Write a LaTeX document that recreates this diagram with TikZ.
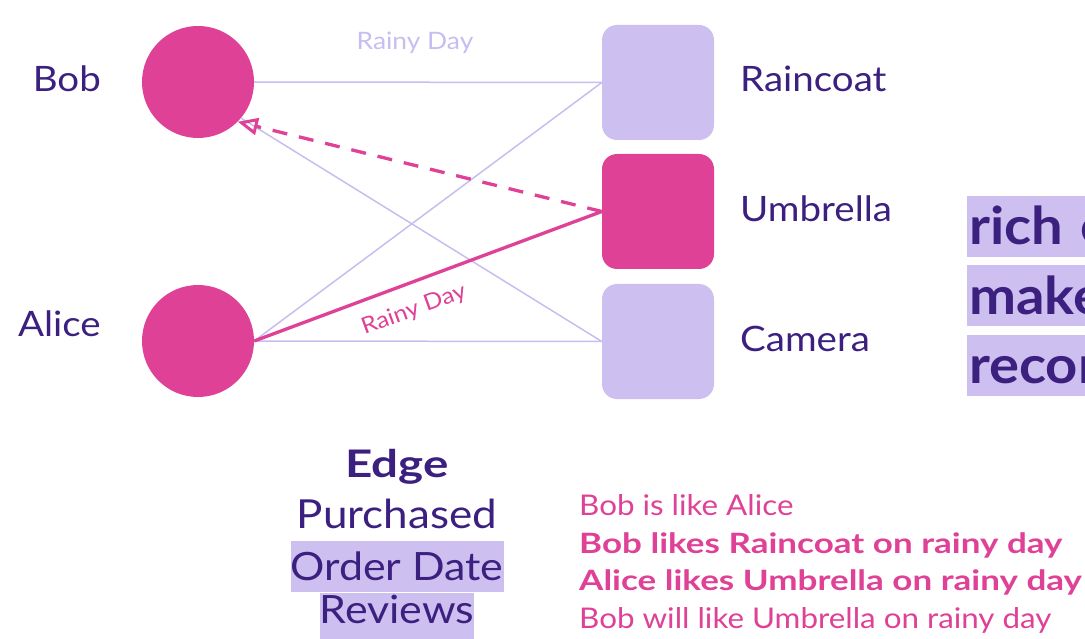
\documentclass[tikz,border=0pt]{standalone}
\usepackage{fontspec}
\setmainfont{Lato}[FakeStretch=1.1]
\newfontfamily\widebold{Lato}[FakeStretch=1.25]
\newfontfamily\headbold{Lato}[FakeStretch=1.08]
\usetikzlibrary{arrows.meta}
\definecolor{lav}{RGB}{205,192,241}
\definecolor{lavline}{RGB}{200,189,240}
\definecolor{hot}{RGB}{222,65,150}
\definecolor{ink}{RGB}{60,32,128}
\newcommand{\fs}[1]{\fontsize{#1}{#1}\selectfont}
\tikzset{
  person/.style={circle, fill=hot, minimum size=112pt, inner sep=0pt},
  item/.style={rectangle, rounded corners=15pt, minimum width=112pt, minimum height=115pt, inner sep=0pt},
  thinedge/.style={draw=lavline, line width=1.5pt},
  pinkedge/.style={draw=hot, line width=3.3pt},
  namelabel/.style={text=ink, font=\fs{35}, inner sep=0pt},
  hl/.style={fill=lav, inner ysep=0pt, inner xsep=2pt},
  pinktext/.style={text=hot, font=\fs{28.5}, inner sep=0pt, anchor=base west},
  pinkbold/.style={pinktext, font=\widebold\fs{28}\bfseries},
  statement/.style={hl, anchor=base west, text width=240pt, align=left, text=ink, font=\headbold\fs{52}\bfseries},
}
\begin{document}
\begin{tikzpicture}[x=1pt,y=-1pt]
\useasboundingbox (0,0) rectangle (1085,639);
\clip (0,0) rectangle (1085,639);
% nodes
\node[person] (bob) at (198,82) {};
\node[person] (alice) at (198,341) {};
\node[item, fill=lav] (raincoat) at (658,82.5) {};
\node[item, fill=hot] (umbrella) at (658,211.5) {};
\node[item, fill=lav] (camera) at (658,341.5) {};
% labels
\node[namelabel, anchor=base east] (bobl) at (101,92) {Bob};
\node[namelabel, anchor=base east] (alicel) at (101,337) {Alice};
\node[namelabel, anchor=base west] (raincoatl) at (740,92) {Raincoat};
\node[namelabel, anchor=base west] (umbrellal) at (740,222) {Umbrella};
\node[namelabel, anchor=base west] (cameral) at (740,351) {Camera};
% edges
\draw[thinedge] (bob.east) -- (raincoat.west);
\draw[thinedge] (alice.east) -- (raincoat.west);
\draw[thinedge] (camera.west) -- (bob.-40);
\draw[thinedge] (alice.east) -- (camera.west);
\draw[pinkedge] (alice.east) -- (umbrella.west);
\draw[pinkedge, dash pattern=on 15pt off 12pt,
  -{Triangle[open, length=20pt, width=17pt, line width=3pt]}] (umbrella.west) -- (bob.-45);
\node[text=lavline, font=\fs{24}, inner sep=0pt, anchor=base] (rd1) at (415,50) {Rainy Day};
\node[text=hot, font=\fs{22.5}, inner sep=0pt, rotate=20] (rd2) at (414,310) {Rainy Day};
% right statement
\node[statement, text height=49pt, text depth=12pt] (s1) at (967,245) {rich e};
\node[statement, text height=50pt, text depth=11pt] (s2) at (967,315) {make};
\node[statement, text height=48pt, text depth=13pt] (s3) at (967,383) {recor};
% edge properties
\node[text=ink, font=\widebold\fs{38}\bfseries, inner sep=0pt, anchor=base] (edge) at (397,477) {Edge};
\node[text=ink, font=\fs{40}, inner sep=0pt, anchor=base] (purch) at (397,528) {Purchased};
\node[hl, inner xsep=0pt, text height=39pt, text depth=12pt, text=ink, font=\fs{39}, anchor=base] (order) at (397,580) {Order Date};
\node[hl, inner xsep=0pt, text height=30pt, text depth=20pt, text=ink, font=\fs{39}, anchor=base] (rev) at (397,623) {Reviews};
% inferences
\node[pinktext] (t1) at (579,515) {Bob is like Alice};
\node[pinkbold] (t2) at (579,553) {Bob likes Raincoat on rainy day};
\node[pinkbold] (t3) at (579,590) {Alice likes Umbrella on rainy day};
\node[pinktext] (t4) at (579,628) {Bob will like Umbrella on rainy day};
\end{tikzpicture}
\end{document}
